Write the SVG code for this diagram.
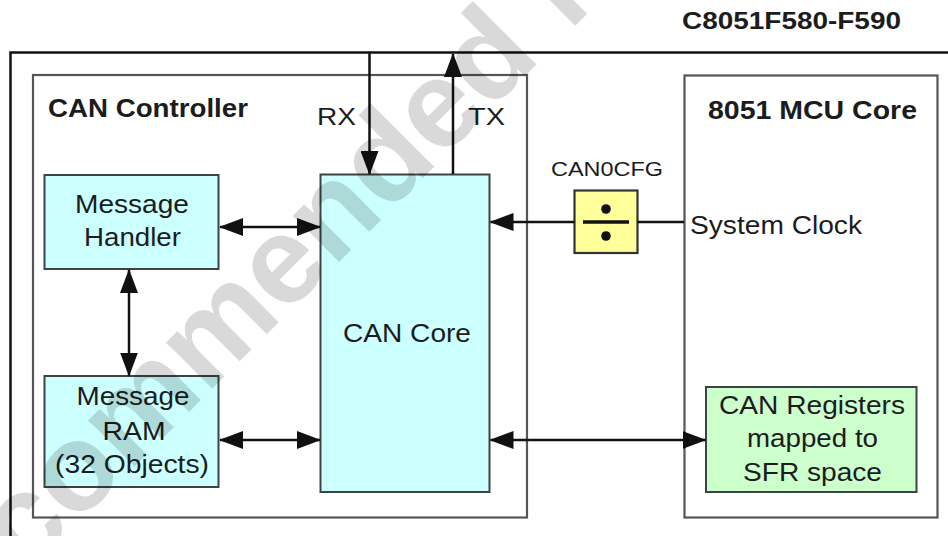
<svg xmlns="http://www.w3.org/2000/svg" width="948" height="536" viewBox="0 0 948 536">
<defs>
<marker id="ah" markerUnits="userSpaceOnUse" markerWidth="24" markerHeight="18" refX="23" refY="9" orient="auto-start-reverse" viewBox="0 0 24 18">
<path d="M0,0 L24,9 L0,18 z" fill="#111"/>
</marker>
<style>
text{font-family:"Liberation Sans",Arial,sans-serif;fill:#1c1c1c}
.t{font-size:25px}
.b{font-size:25px;font-weight:bold}
.frame{fill:none;stroke:#555;stroke-width:2.2}
.blk{stroke:#3a4444;stroke-width:2}
.cyan{fill:#ccffff}
.green{fill:#ccffcc}
.yel{fill:#ffff99;stroke:#333;stroke-width:2.2}
.c{fill:none;stroke:#111;stroke-width:2.5}
.wm{font-size:124px;font-weight:bold;fill:#000000;fill-opacity:0.15}
</style>
</defs>
<rect width="948" height="536" fill="#ffffff"/>

<g id="chip">
<path d="M10.5,540 V52.5 H952" fill="none" stroke="#111" stroke-width="2.5"/>
<text x="682" y="29" class="b" style="font-size:23px" textLength="219" lengthAdjust="spacingAndGlyphs">C8051F580-F590</text>
</g>

<g id="can-controller">
<rect x="33" y="75" width="494" height="442.5" class="frame"/>
<text x="48" y="117" class="b" textLength="200" lengthAdjust="spacingAndGlyphs">CAN Controller</text>
</g>

<g id="mcu-core">
<rect x="684.5" y="75.5" width="253" height="442" class="frame" stroke="#666"/>
<text x="708" y="119" class="b" style="font-size:26px" textLength="209" lengthAdjust="spacingAndGlyphs">8051 MCU Core</text>
</g>

<g id="message-handler">
<rect x="44.5" y="175" width="174" height="94" class="cyan blk"/>
<text x="75" y="213" class="t" textLength="114" lengthAdjust="spacingAndGlyphs">Message</text>
<text x="84" y="246" class="t" textLength="97" lengthAdjust="spacingAndGlyphs">Handler</text>
</g>

<g id="message-ram">
<rect x="44.5" y="376" width="174" height="111" class="cyan blk"/>
<text x="76.5" y="405" class="t" textLength="113" lengthAdjust="spacingAndGlyphs">Message</text>
<text x="102.5" y="440" class="t" textLength="63" lengthAdjust="spacingAndGlyphs">RAM</text>
<text x="55" y="473" class="t" textLength="154" lengthAdjust="spacingAndGlyphs">(32 Objects)</text>
</g>

<g id="can-core">
<rect x="320.5" y="174.5" width="169" height="317.5" class="cyan blk"/>
<text x="343" y="342" class="t" textLength="128" lengthAdjust="spacingAndGlyphs">CAN Core</text>
</g>

<g id="can-registers">
<rect x="706" y="387" width="210.5" height="105" class="green blk"/>
<text x="719" y="414" class="t" textLength="186" lengthAdjust="spacingAndGlyphs">CAN Registers</text>
<text x="747" y="447" class="t" textLength="131" lengthAdjust="spacingAndGlyphs">mapped to</text>
<text x="743" y="481" class="t" textLength="139" lengthAdjust="spacingAndGlyphs">SFR space</text>
</g>

<g id="can0cfg">
<text x="551" y="176" class="t" style="font-size:20px" textLength="112" lengthAdjust="spacingAndGlyphs">CAN0CFG</text>
<rect x="574.5" y="190.5" width="63" height="62.5" class="yel"/>
<line x1="583" y1="222" x2="629" y2="222" stroke="#111" stroke-width="3.5"/>
<circle cx="606" cy="209" r="4.8" fill="#111"/>
<circle cx="606" cy="236" r="4.8" fill="#111"/>
</g>

<g id="labels">
<text x="317" y="125" class="t" style="font-size:24px" textLength="39" lengthAdjust="spacingAndGlyphs">RX</text>
<text x="468" y="125" class="t" style="font-size:24px" textLength="37" lengthAdjust="spacingAndGlyphs">TX</text>
<text x="690" y="234" class="t" style="font-size:26px" textLength="172" lengthAdjust="spacingAndGlyphs">System Clock</text>
</g>

<g id="connectors">
<line x1="369.5" y1="52" x2="369.5" y2="174" class="c" marker-end="url(#ah)"/>
<line x1="453" y1="174" x2="453" y2="54" class="c" marker-end="url(#ah)"/>
<line x1="220" y1="227" x2="320" y2="227" class="c" marker-start="url(#ah)" marker-end="url(#ah)"/>
<line x1="129" y1="270" x2="129" y2="375.5" class="c" marker-start="url(#ah)" marker-end="url(#ah)"/>
<line x1="220" y1="440" x2="320" y2="440" class="c" marker-start="url(#ah)" marker-end="url(#ah)"/>
<line x1="490.5" y1="440" x2="705.5" y2="440" class="c" marker-start="url(#ah)" marker-end="url(#ah)"/>
<line x1="684" y1="222" x2="637.5" y2="222" class="c"/>
<line x1="574.5" y1="222" x2="490.5" y2="222" class="c" marker-end="url(#ah)"/>
</g>

<g id="watermark">
<text class="wm" transform="translate(-86,687) rotate(-45)" x="0" y="0">Recommended for</text>
</g>
</svg>
